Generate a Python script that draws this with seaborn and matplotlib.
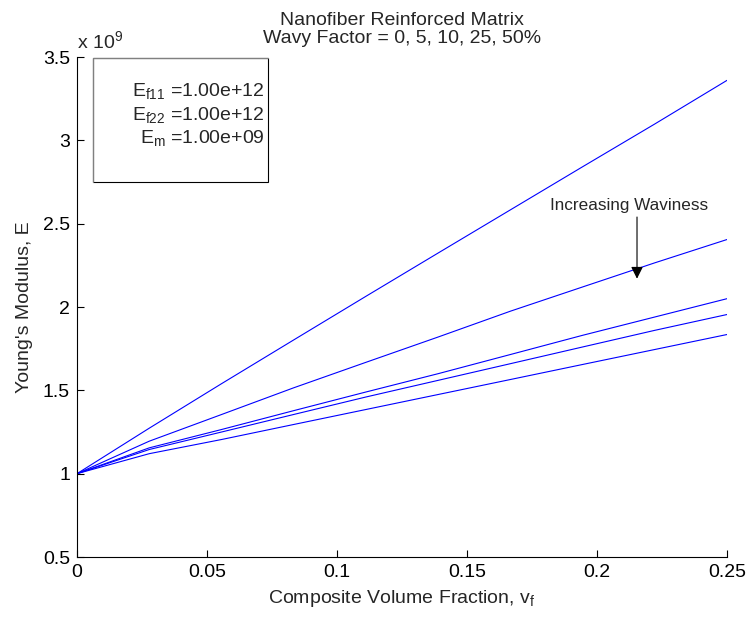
import numpy as np
import pandas as pd
import matplotlib
matplotlib.use("Agg")
from matplotlib import pyplot as plt
from matplotlib.patches import Rectangle
import seaborn as sns

# fibre volume fraction (sample points of the model)
vf = [0.0, 0.0278, 0.0556, 0.0833, 0.1111, 0.1389, 0.1667, 0.1944, 0.2222, 0.25]

# Young's modulus in units of 1e9, one list per wavy factor
wavy_factors = ["0%", "5%", "10%", "25%", "50%"]
E_w0 = [1.0, 1.273, 1.540, 1.802, 2.064, 2.324, 2.583, 2.841, 3.098, 3.36]
E_w5 = [1.0, 1.195, 1.355, 1.515, 1.668, 1.820, 1.975, 2.120, 2.265, 2.405]
E_w10 = [1.0, 1.155, 1.265, 1.378, 1.490, 1.600, 1.715, 1.830, 1.940, 2.050]
E_w25 = [1.0, 1.145, 1.250, 1.355, 1.460, 1.560, 1.660, 1.760, 1.860, 1.955]
E_w50 = [1.0, 1.120, 1.205, 1.295, 1.385, 1.475, 1.565, 1.655, 1.745, 1.835]

x_ticks = [0, 0.05, 0.1, 0.15, 0.2, 0.25]
y_ticks = [0.5, 1, 1.5, 2, 2.5, 3, 3.5]

frames = []
for name, vals in zip(wavy_factors, [E_w0, E_w5, E_w10, E_w25, E_w50]):
    frames.append(pd.DataFrame({"vf": vf, "E": vals, "wavy": name}))
df = pd.concat(frames, ignore_index=True)

sns.set_style("ticks")
plt.rcParams['font.family'] = ['Liberation Sans', 'DejaVu Sans']
plt.rcParams['mathtext.fontset'] = 'custom'
plt.rcParams['mathtext.rm'] = 'Liberation Sans'
plt.rcParams['mathtext.it'] = 'Liberation Sans'

FS = 14

fig = plt.figure(figsize=(7.51, 6.2), dpi=100)
ax = fig.add_axes([0.1025, 0.1016, 0.8655, 0.8064])

sns.lineplot(data=df, x="vf", y="E", hue="wavy", palette=["#0000ff"] * 5,
             linewidth=0.8, legend=False, ax=ax)

ax.set_xlim(0, 0.25)
ax.set_ylim(0.5, 3.5)
ax.set_xticks(x_ticks)
ax.set_xticklabels(["0", "0.05", "0.1", "0.15", "0.2", "0.25"])
ax.set_yticks(y_ticks)
ax.set_yticklabels(["0.5", "1", "1.5", "2", "2.5", "3", "3.5"])
ax.tick_params(direction="in", length=5, width=0.8, labelsize=FS, colors="black", pad=5)
sns.despine(ax=ax)
for s in ["left", "bottom"]:
    ax.spines[s].set_linewidth(0.8)
    ax.spines[s].set_color("black")

ax.set_xlabel("Composite Volume Fraction, v$_{\\mathrm{f}}$", fontsize=FS, labelpad=5)
ax.set_ylabel("Young's Modulus, E", fontsize=FS, labelpad=7)
ax.set_title("Nanofiber Reinforced Matrix\nWavy Factor = 0, 5, 10, 25, 50%",
             fontsize=FS, pad=10, linespacing=1.1)

# offset label like MATLAB
ax.text(0.0, 1.01, "x 10$^{9}$", transform=ax.transAxes, fontsize=FS,
        ha="left", va="bottom")

# material property box
ax.add_patch(Rectangle((0.0246, 0.75), 0.2694, 0.248, transform=ax.transAxes,
                       fill=False, edgecolor="black", linewidth=0.8, clip_on=False))
ax.plot([0.0246, 0.0246, 0.294], [0.75, 0.998, 0.998], transform=ax.transAxes,
        color="#808080", linewidth=0.9, clip_on=False)
props = ["E$_{\\mathrm{f11}}$ =1.00e+12", "E$_{\\mathrm{f22}}$ =1.00e+12",
         "E$_{\\mathrm{m}}$ =1.00e+09"]
for i, t in enumerate(props):
    ax.text(0.289, 0.932 - i * 0.047, t, transform=ax.transAxes, fontsize=FS,
            ha="right", va="center")

# arrow annotation
ax.annotate("", xy=(0.2154, 2.17), xytext=(0.2154, 2.54),
            arrowprops=dict(arrowstyle="-|>", color="black", lw=0.8,
                            mutation_scale=18, shrinkA=0, shrinkB=0))
ax.text(0.2123, 2.61, "Increasing Waviness", fontsize=12.3, ha="center", va="center")

fig.savefig("out.png", dpi=100)
